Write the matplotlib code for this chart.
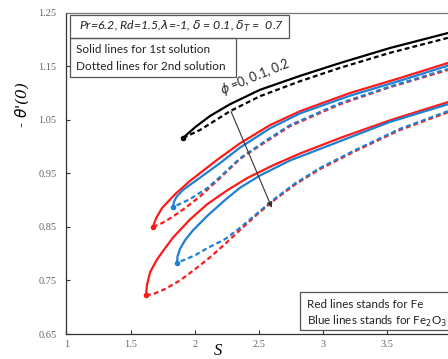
import matplotlib
matplotlib.use("Agg")
import matplotlib.pyplot as plt
import matplotlib.patches as patches

# phi = 0 (base fluid), shared by both nanoparticles
s_phi0_1st = [1.908, 2.002, 2.118, 2.274, 2.508, 2.820, 3.132, 3.521, 3.973]
t_phi0_1st = [1.016, 1.036, 1.057, 1.079, 1.106, 1.132, 1.156, 1.184, 1.212]
s_phi0_2nd = [1.908, 2.041, 2.274, 2.508, 2.820, 3.132, 3.521, 3.973]
t_phi0_2nd = [1.016, 1.031, 1.066, 1.094, 1.122, 1.147, 1.175, 1.203]

# phi = 0.1, Fe
s_fe1_1st = [1.674, 1.698, 1.744, 1.846, 1.963, 2.173, 2.352, 2.586, 2.820, 3.210, 3.599, 3.973]
t_fe1_1st = [0.850, 0.866, 0.885, 0.911, 0.936, 0.975, 1.006, 1.040, 1.066, 1.100, 1.128, 1.156]
s_fe1_2nd = [1.674, 1.744, 1.822, 1.924, 2.041, 2.196, 2.352, 2.547, 2.742, 3.132, 3.521, 3.973]
t_fe1_2nd = [0.850, 0.857, 0.868, 0.885, 0.907, 0.941, 0.977, 1.008, 1.038, 1.079, 1.111, 1.143]

# phi = 0.1, Fe2O3
s_fo1_1st = [1.830, 1.838, 1.860, 1.908, 2.041, 2.196, 2.352, 2.586, 2.820, 3.210, 3.599, 3.973]
t_fo1_1st = [0.887, 0.897, 0.907, 0.919, 0.942, 0.969, 0.998, 1.034, 1.062, 1.095, 1.123, 1.151]
s_fo1_2nd = [1.830, 1.885, 1.963, 2.095, 2.196, 2.352, 2.547, 2.742, 3.132, 3.521, 3.973]
t_fo1_2nd = [0.887, 0.893, 0.902, 0.922, 0.943, 0.978, 1.010, 1.040, 1.081, 1.112, 1.145]

# phi = 0.2, Fe
s_fe2_1st = [1.620, 1.627, 1.651, 1.705, 1.768, 1.830, 1.963, 2.095, 2.251, 2.407, 2.610, 2.820, 3.132, 3.521, 3.973]
t_fe2_1st = [0.722, 0.741, 0.765, 0.789, 0.810, 0.830, 0.864, 0.892, 0.918, 0.941, 0.965, 0.987, 1.016, 1.049, 1.083]
s_fe2_2nd = [1.620, 1.690, 1.768, 1.885, 2.002, 2.118, 2.235, 2.352, 2.485, 2.625, 2.781, 2.976, 3.264, 3.599, 3.973]
t_fe2_2nd = [0.722, 0.726, 0.734, 0.750, 0.771, 0.793, 0.818, 0.844, 0.873, 0.901, 0.929, 0.958, 0.993, 1.031, 1.064]

# phi = 0.2, Fe2O3
s_fo2_1st = [1.861, 1.866, 1.885, 1.924, 1.980, 2.095, 2.235, 2.352, 2.508, 2.742, 3.132, 3.521, 3.973]
t_fo2_1st = [0.783, 0.795, 0.809, 0.825, 0.842, 0.870, 0.900, 0.923, 0.946, 0.974, 1.010, 1.046, 1.079]
s_fo2_2nd = [1.861, 1.924, 2.002, 2.095, 2.235, 2.352, 2.485, 2.625, 2.781, 2.976, 3.264, 3.599, 3.973]
t_fo2_2nd = [0.783, 0.789, 0.797, 0.810, 0.827, 0.848, 0.875, 0.903, 0.931, 0.960, 0.995, 1.033, 1.066]

xticks = [1, 1.5, 2, 2.5, 3, 3.5, 4]
yticks = [0.65, 0.75, 0.85, 0.95, 1.05, 1.15, 1.25]

RED = "#ff1a1a"
BLUE = "#1f7fd2"

fig = plt.figure(figsize=(4.48, 3.59), dpi=100)
ax = fig.add_axes([0.1484, 0.0696, 0.859, 0.895])

def branch(s1, t1, s2, t2, color, z, offset=0):
    ax.plot(s1, t1, color=color, lw=1.6, solid_capstyle="round", zorder=z)
    ax.plot(s2, t2, color=color, lw=1.6, linestyle=(offset, (2.2, 1.4)), zorder=z)
    ax.plot(s1[0], t1[0], "o", color=color, ms=3, zorder=z)

branch(s_phi0_1st, t_phi0_1st, s_phi0_2nd, t_phi0_2nd, "black", 3)
branch(s_fe1_1st, t_fe1_1st, s_fe1_2nd, t_fe1_2nd, RED, 2)
branch(s_fo1_1st, t_fo1_1st, s_fo1_2nd, t_fo1_2nd, BLUE, 3, offset=1.8)
branch(s_fe2_1st, t_fe2_1st, s_fe2_2nd, t_fe2_2nd, RED, 2)
branch(s_fo2_1st, t_fo2_1st, s_fo2_2nd, t_fo2_2nd, BLUE, 3, offset=1.8)

ax.set_xlim(1, 4)
ax.set_ylim(0.65, 1.25)
ax.set_xticks(xticks)
ax.set_yticks(yticks)
ax.set_xticklabels(["1", "1.5", "2", "2.5", "3", "3.5", "4"])
ax.set_yticklabels(["%.2f" % v for v in yticks])
ax.tick_params(direction="in", length=3, width=0.8, colors="#333333",
               labelcolor="#666666", labelsize=7.5)
ax.tick_params(axis="y", pad=7)
ax.tick_params(axis="x", pad=4)
for lab in ax.get_xticklabels() + ax.get_yticklabels():
    lab.set_family("Liberation Serif")
ax.spines["right"].set_visible(False)
for sp in ["left", "bottom", "top"]:
    ax.spines[sp].set_color("#333333")
    ax.spines[sp].set_linewidth(0.9)
ax.spines["top"].set_color("#777777")

# parameter box and solution-type box
box_kw = dict(transform=ax.transAxes, fill=False, edgecolor="#555555", lw=0.9, zorder=5)
ax.add_patch(patches.Rectangle((0.009, 0.922), 0.569, 0.071, **box_kw))
ax.add_patch(patches.Rectangle((0.009, 0.800), 0.431, 0.122, **box_kw))
ax.text(0.032, 0.957, r"Pr=6.2, Rd=1.5,$\lambda$=-1, $\delta$ = 0.1, $\delta_T$ =  0.7",
        transform=ax.transAxes, fontsize=8.9, style="italic", family="Lato",
        va="center", ha="left", color="#222222")
ax.text(0.025, 0.884, "Solid lines for 1st solution", transform=ax.transAxes,
        fontsize=8.5, family="Lato", va="center", color="#222222")
ax.text(0.025, 0.834, "Dotted lines for 2nd solution", transform=ax.transAxes,
        fontsize=8.5, family="Lato", va="center", color="#222222")

# material legend box
ax.add_patch(patches.Rectangle((0.607, 0.012), 0.40, 0.119, **box_kw))
ax.text(0.625, 0.093, "Red lines stands for Fe", transform=ax.transAxes,
        fontsize=8.4, family="Lato", va="center", color="#222222")
ax.text(0.625, 0.040, r"Blue lines stands for Fe$_2$O$_3$", transform=ax.transAxes,
        fontsize=8.4, family="Lato", va="center", color="#222222")

# direction of increasing phi
ax.text(0.49, 0.80, r"$\phi$ =0, 0.1, 0.2", transform=ax.transAxes, rotation=22,
        fontsize=9, family="Lato", ha="center", va="center", color="#222222")
ax.annotate("", xy=(0.5365, 0.385), xytext=(0.425, 0.70),
            xycoords="axes fraction", textcoords="axes fraction",
            arrowprops=dict(arrowstyle="-|>", color="#333333", lw=0.8,
                            mutation_scale=8), zorder=6)

fig.text(0.049, 0.708, r"- $\theta$'(0)", rotation=90, fontsize=11,
         family="DejaVu Serif", style="italic", ha="center", va="center")
fig.text(0.487, 0.022, "S", fontsize=12, family="Liberation Serif",
         style="italic", ha="center", va="center")

fig.savefig("out.png", dpi=100)
